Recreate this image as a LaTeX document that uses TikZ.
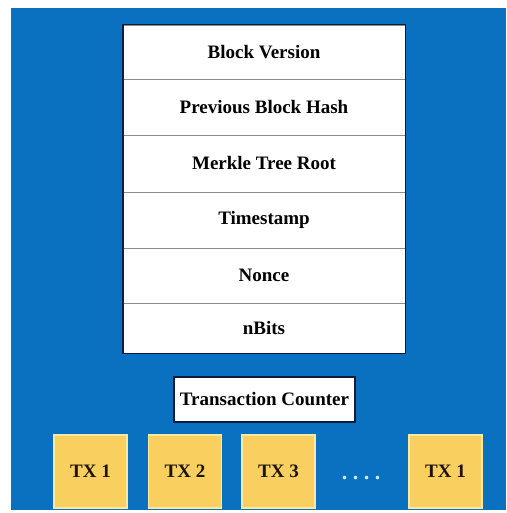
\documentclass[tikz,border=0pt]{standalone}
\usepackage{fontspec}
\setmainfont{Liberation Serif}
\definecolor{bgblue}{RGB}{10,112,192}
\definecolor{navy}{RGB}{12,28,58}
\definecolor{divgray}{RGB}{140,140,140}
\definecolor{txfill}{RGB}{249,208,96}
\definecolor{txedge}{RGB}{252,232,160}
\definecolor{dotcol}{RGB}{200,240,255}
\begin{document}
\begin{tikzpicture}[x=1pt,y=-1pt,
  rowbox/.style={draw=divgray, line width=0.8pt, fill=white, minimum width=282pt, inner sep=0pt,
     font=\fontsize{19}{21}\selectfont\bfseries},
  tcbox/.style={draw=navy, line width=1.4pt, fill=white, minimum width=181pt, minimum height=45pt, inner sep=0pt,
     font=\fontsize{19}{21}\selectfont\bfseries},
  txbox/.style={draw=txedge, line width=1.2pt, fill=txfill, minimum width=73pt, minimum height=73pt, inner sep=0pt,
     font=\fontsize{19}{21}\selectfont\bfseries, text=black!85!brown}]
\useasboundingbox (0,0) rectangle (506,513);
\fill[white] (0,0) rectangle (506,513);
\fill[bgblue] (11,8) rectangle (506,510);
% header rows
\node[rowbox, minimum height=54pt] (r1) at (264,52) {Block Version};
\node[rowbox, minimum height=56pt] (r2) at (264,107) {Previous Block Hash};
\node[rowbox, minimum height=57pt] (r3) at (264,163.5) {Merkle Tree Root};
\node[rowbox, minimum height=56pt] (r4) at (264,220) {Timestamp};
\node[rowbox, minimum height=55pt] (r5) at (264,275.5) {Nonce};
\node[rowbox, minimum height=50pt] (r6) at (264,328) {nBits};
\draw[navy, line width=1.8pt] (r1.north west) rectangle (r6.south east);
% transaction counter
\node[tcbox] (tc) at (264.5,399.5) {Transaction Counter};
% transactions
\node[txbox] (tx1) at (90.5,471.5) {TX 1};
\node[txbox] (tx2) at (185,471.5) {TX 2};
\node[txbox] (tx3) at (278.5,471.5) {TX 3};
\node[font=\fontsize{22}{24}\selectfont\bfseries, text=dotcol, inner sep=0pt, anchor=base] (dots) at (361,479) {.\hspace{5.5pt}.\hspace{5.5pt}.\hspace{5.5pt}.};
\node[txbox] (txn) at (445.5,471.5) {TX 1};
\end{tikzpicture}
\end{document}
